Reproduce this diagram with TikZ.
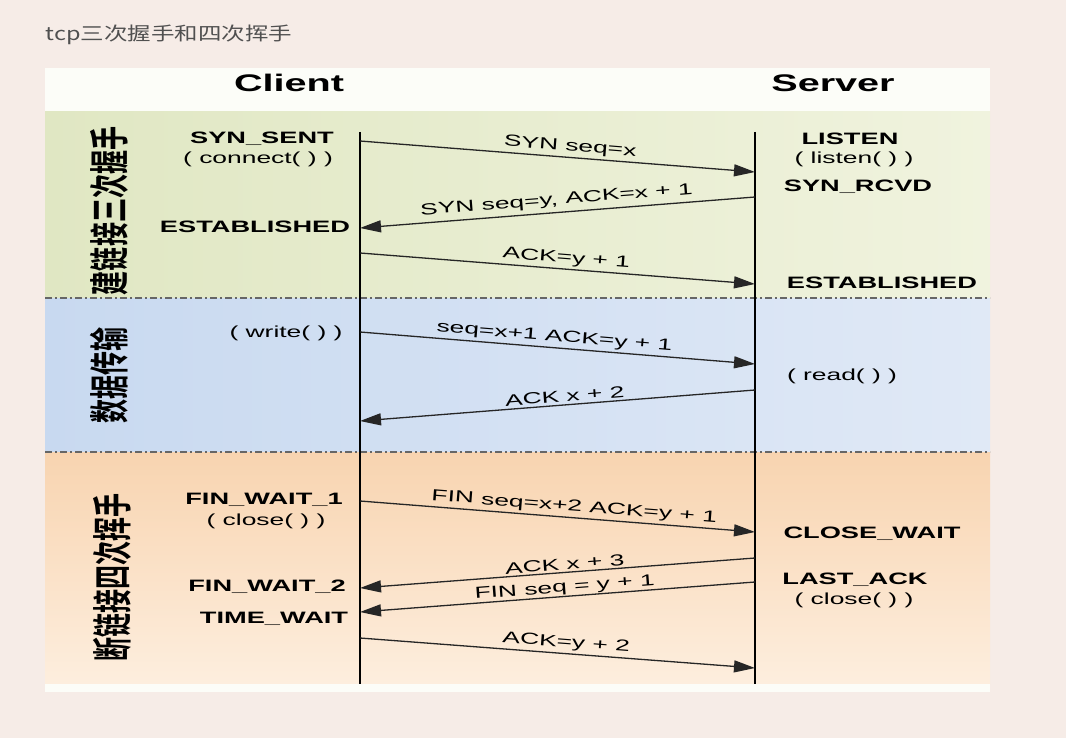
\documentclass[tikz,border=0pt]{standalone}
\usepackage{fontspec}
\setmainfont{Liberation Sans}
\newfontfamily\widefont{Liberation Sans}[FakeStretch=1.65]
\newfontfamily\titlefont{Noto Sans CJK SC}[FakeStretch=1.27]
\newfontfamily\phasefont{Noto Sans CJK SC Bold}[FakeStretch=0.6]
\usetikzlibrary{arrows.meta}

\definecolor{pagebg}{RGB}{246,236,231}
\definecolor{titlegray}{RGB}{80,80,80}
\definecolor{headwhite}{RGB}{252,253,248}
\definecolor{greenL}{RGB}{224,231,195}
\definecolor{greenR}{RGB}{240,243,222}
\definecolor{blueL}{RGB}{200,217,240}
\definecolor{blueR}{RGB}{224,233,246}
\definecolor{orangeT}{RGB}{248,212,176}
\definecolor{orangeB}{RGB}{253,238,222}

\begin{document}
\begin{tikzpicture}[x=1pt, y=-1pt,
  head/.style = {font=\widefont\bfseries\fontsize{24}{26}\selectfont, inner sep=0pt},
  state/.style = {font=\widefont\bfseries\fontsize{16.5}{18}\selectfont, inner sep=0pt},
  call/.style = {font=\widefont\fontsize{16}{18}\selectfont, inner sep=0pt},
  phase/.style = {rotate=90, font=\phasefont\fontsize{40}{42}\selectfont, inner sep=0pt},
  msg/.style = {-{Triangle[length=21pt, width=12pt]}, line width=1.3pt, draw=black!85},
  msglabel/.style = {sloped, above, font=\widefont\fontsize{16}{18}\selectfont, inner sep=2.5pt},
  lifeline/.style = {line width=1.8pt},
  divider/.style = {line width=1.3pt, draw=black!60, dash pattern=on 7pt off 3pt on 2pt off 3pt},
  ]
  \fill[pagebg] (0,0) rectangle (1066,738);
  \node[anchor=west, text=titlegray, font=\titlefont\fontsize{18.5}{20}\selectfont] (title) at (42,35) {tcp三次握手和四次挥手};

  \fill[headwhite] (45,68) rectangle (990,112);
  \shade[left color=greenL, right color=greenR] (45,112) rectangle (990,298);
  \shade[left color=blueL, right color=blueR] (45,298) rectangle (990,452);
  \shade[top color=orangeT, bottom color=orangeB] (45,452) rectangle (990,684);
  \fill[headwhite] (45,684) rectangle (990,692);
  \draw[divider] (45,298) -- (990,298);
  \draw[divider] (45,452) -- (990,452);

  \node[head] (client) at (289,83) {Client};
  \node[head] (server) at (833,83) {Server};

  \node[phase] (connect) at (109,211) {建链接三次握手};
  \node[phase] (transfer) at (109,375) {数据传输};
  \node[phase] (close) at (112,577) {断链接四次挥手};

  \coordinate (ctop) at (360,132);
  \coordinate (cbot) at (360,684);
  \coordinate (stop) at (755,132);
  \coordinate (sbot) at (755,684);
  \draw[lifeline] (ctop) -- (cbot);
  \draw[lifeline] (stop) -- (sbot);

  \node[state] (synsent) at (262,139) {SYN\_SENT};
  \node[call] (connectcall) at (258,159) {( connect( ) )};
  \node[state] (cestab) at (255,227) {ESTABLISHED};
  \node[call] (writecall) at (286,333) {( write( ) )};
  \node[state] (finwait1) at (264,500) {FIN\_WAIT\_1};
  \node[call] (cclosecall) at (266,521) {( close( ) )};
  \node[state] (finwait2) at (267,587) {FIN\_WAIT\_2};
  \node[state] (timewait) at (274,619) {TIME\_WAIT};

  \node[state] (listen) at (850,139) {LISTEN};
  \node[call] (listencall) at (854,159) {( listen( ) )};
  \node[state] (synrcvd) at (858,187) {SYN\_RCVD};
  \node[state] (sestab) at (882,283) {ESTABLISHED};
  \node[call] (readcall) at (842,376) {( read( ) )};
  \node[state] (closewait) at (872,534) {CLOSE\_WAIT};
  \node[state] (lastack) at (855,580) {LAST\_ACK};
  \node[call] (sclosecall) at (854,600) {( close( ) )};

  \coordinate (c1) at (360,141);  \coordinate (s1) at (755,172);
  \coordinate (s2) at (755,197);  \coordinate (c2) at (360,228);
  \coordinate (c3) at (360,253);  \coordinate (s3) at (755,284);
  \coordinate (c4) at (360,332);  \coordinate (s4) at (755,364);
  \coordinate (s5) at (755,390);  \coordinate (c5) at (360,421);
  \coordinate (c6) at (360,501);  \coordinate (s6) at (755,532);
  \coordinate (s7) at (755,558);  \coordinate (c7) at (360,588);
  \coordinate (s8) at (755,582);  \coordinate (c8) at (360,612);
  \coordinate (c9) at (360,638);  \coordinate (s9) at (755,668);

  \draw[msg] (c1) -- node[msglabel, pos=0.53] {SYN seq=x} (s1);
  \draw[msg] (s2) -- node[msglabel, pos=0.5, inner sep=4pt] {SYN seq=y, ACK=x + 1} (c2);
  \draw[msg] (c3) -- node[msglabel, pos=0.52] {ACK=y + 1} (s3);
  \draw[msg] (c4) -- node[msglabel, pos=0.49] {seq=x+1 ACK=y + 1} (s4);
  \draw[msg] (s5) -- node[msglabel, pos=0.48] {ACK x + 2} (c5);
  \draw[msg] (c6) -- node[msglabel, pos=0.54] {FIN seq=x+2 ACK=y + 1} (s6);
  \draw[msg] (s7) -- node[msglabel, pos=0.48, inner sep=2pt] {ACK x + 3} (c7);
  \draw[msg] (s8) -- node[msglabel, pos=0.48, inner sep=0.5pt] {FIN seq = y + 1} (c8);
  \draw[msg] (c9) -- node[msglabel, pos=0.52] {ACK=y + 2} (s9);
\end{tikzpicture}
\end{document}
